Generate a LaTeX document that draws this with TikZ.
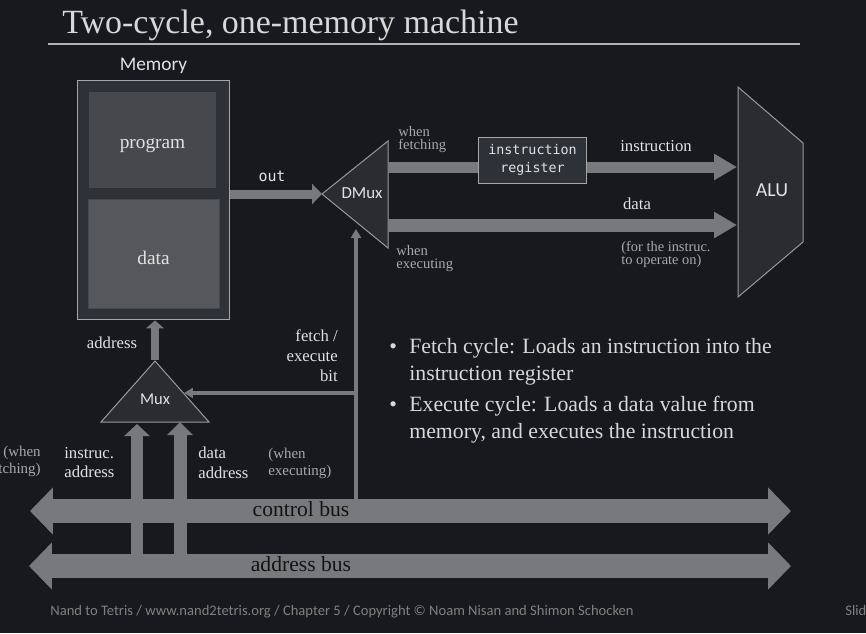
\documentclass[tikz,border=0pt]{standalone}
\usepackage{fontspec}
\setmainfont{Liberation Serif}
\setsansfont{Carlito}
\setmonofont{DejaVu Sans Mono}
\usepackage{xcolor}
\usetikzlibrary{arrows.meta}
\definecolor{slidebg}{HTML}{17191E}
\definecolor{boxout}{HTML}{2F3138}
\definecolor{progfill}{HTML}{46484D}
\definecolor{datafill}{HTML}{55575C}
\definecolor{gatefill}{HTML}{2A2C32}
\definecolor{pipe}{HTML}{77797D}
\definecolor{lighttext}{HTML}{E2E2E2}
\definecolor{dimtext}{HTML}{A9A9A9}

\begin{document}
\begin{tikzpicture}[x=0.02cm,y=-0.02cm,font=\rmfamily,
  gate/.style={fill=gatefill,draw=gray!80,line width=0.02cm},
  gatetext/.style={font=\sffamily\fontsize{9.6}{11}\selectfont,text=lighttext},
  lbl/.style={font=\fontsize{9.5}{11.3}\selectfont,text=lighttext,inner sep=0pt},
  note/.style={font=\fontsize{8.3}{7.5}\selectfont,text=dimtext,inner sep=0pt,align=left},
  wire/.style={draw=pipe,line width=0.22cm,-{Triangle[length=0.46cm,width=0.5cm]}},
  thinwire/.style={draw=pipe,line width=0.08cm,-{Triangle[length=0.18cm,width=0.2cm]}},
  bus/.style={draw=pipe,line width=0.48cm,{Triangle[length=0.46cm,width=0.92cm]}-{Triangle[length=0.46cm,width=0.92cm]}},
  buslbl/.style={font=\fontsize{12.3}{14}\selectfont,text=black!85!gray,inner sep=0pt},
  bullettxt/.style={anchor=north west,inner sep=0pt,align=left,text=lighttext!90!gray,font=\fontsize{12.4}{15.3}\selectfont}]
  \clip (0,0) rectangle (866,633);
  \fill[slidebg] (0,0) rectangle (866,633);

  \node[anchor=base west,inner sep=0pt,text=lighttext!90!gray,font=\fontsize{19.3}{23}\selectfont] (title) at (62,33) {Two-cycle, one-memory machine};
  \draw[gray!60!white,line width=0.04cm] (48,44) -- (800,44);

  \node[fill=boxout,draw=gray!70,line width=0.02cm,minimum width=3.06cm,minimum height=4.8cm] (mem) at (153.5,200) {};
  \node[font=\sffamily\fontsize{11}{13}\selectfont,text=lighttext,above=0cm] (memlbl) at (mem.north) {Memory};
  \node[fill=progfill,minimum width=2.54cm,minimum height=1.92cm,text=lighttext,font=\fontsize{11}{13}\selectfont,text height=0.34cm,text depth=0pt] (prog) at (152.5,140) {program};
  \node[fill=datafill,draw=progfill,minimum width=2.62cm,minimum height=2.18cm,text=lighttext,font=\fontsize{11}{13}\selectfont,text height=0.44cm,text depth=0pt] (data) at (153.5,253.5) {data};

  \draw[gate] (322,194) -- (388,141) -- (388,248) -- cycle;
  \node[gatetext] (dmux) at (362,193) {DMux};
  \coordinate (dmuxin) at (322,194);
  \coordinate (dmuxtop) at (388,167);
  \coordinate (dmuxbot) at (388,225);
  \coordinate (dmuxsel) at (356,229);

  \draw[gate] (738,87) -- (803,143) -- (803,242) -- (738,297) -- cycle;
  \node[font=\sffamily\fontsize{11.3}{13}\selectfont,text=lighttext] (alu) at (772,190) {ALU};
  \coordinate (aluins) at (737,167);
  \coordinate (aludata) at (737,225);

  \draw[gate] (155,361) -- (209,422) -- (101,422) -- cycle;
  \node[font=\sffamily\fontsize{9.4}{11}\selectfont,text=lighttext] (mux) at (155,399) {Mux};
  \coordinate (muxtop) at (155,360);
  \coordinate (muxsel) at (184,393);
  \coordinate (muxa) at (137,424);
  \coordinate (muxb) at (180,422);

  \draw[draw=pipe,line width=0.18cm,-{Triangle[length=0.2cm,width=0.4cm]}] (mem.east |- dmuxin) -- (dmuxin);
  \node[font=\ttfamily\fontsize{8.5}{10}\selectfont,text=lighttext] (outlbl) at (272,176) {out};

  \draw[draw=pipe,line width=0.22cm] (dmuxtop) -- (478,167);
  \node[fill=boxout,draw=gray!70,line width=0.02cm,minimum width=2.18cm,minimum height=0.92cm,align=center,text=lighttext,font=\ttfamily\fontsize{7.6}{10}\selectfont] (ireg) at (532.5,160) {instruction\\register};
  \draw[wire] (ireg.east |- aluins) -- (aluins);
  \draw[wire,line width=0.26cm] (dmuxbot) -- (aludata);

  \node[lbl] (inslbl) at (656,146) {instruction};
  \node[lbl] (datalbl) at (637,204) {data};
  \node[note,anchor=north west,font=\fontsize{8.2}{7.5}\selectfont] (operlbl) at (621,241) {(for the instruc.\\to operate on)};
  \node[note,anchor=north west] (fetchlbl) at (398,126) {when\\fetching};
  \node[note,anchor=north west] (execlbl) at (396,245) {when\\executing};

  \coordinate (cbtop) at (356,499);
  \coordinate (branch) at (356,393);
  \draw[thinwire] (cbtop) -- (dmuxsel);
  \draw[thinwire] (branch) -- (muxsel);
  \node[lbl,align=right,anchor=north east,font=\fontsize{9.5}{11.4}\selectfont] (bitlbl) at (338,329) {fetch /\\execute\\bit};

  \draw[draw=pipe,line width=0.16cm,-{Triangle[length=0.16cm,width=0.36cm]}] (muxtop) -- (mux.north |- mem.south);
  \node[lbl] (addrlbl) at (112,343) {address};

  \coordinate (cbw) at (30,511);
  \coordinate (cbe) at (791,511);
  \coordinate (abw) at (29,566);
  \coordinate (abe) at (791,566);
  \draw[bus] (cbw) -- (cbe);
  \draw[bus] (abw) -- (abe);
  \node[buslbl] (cblbl) at (301,509) {control bus};
  \node[buslbl] (ablbl) at (301,564) {address bus};

  \draw[draw=pipe,line width=0.26cm,-{Triangle[length=0.24cm,width=0.5cm]}] (muxa |- abw) ++(0,-12) -- (muxa);
  \draw[draw=pipe,line width=0.26cm,-{Triangle[length=0.26cm,width=0.5cm]}] (muxb |- abw) ++(0,-12) -- (muxb);

  \node[lbl,align=left,anchor=north west,font=\fontsize{9.5}{10.9}\selectfont] (iaddr) at (64,447) {instruc.\\address};
  \node[lbl,align=left,anchor=north west,font=\fontsize{9.5}{10.9}\selectfont] (daddr) at (198,447) {data\\address};
  \node[note,align=right,anchor=north east,font=\fontsize{8.5}{9.6}\selectfont] (whenf) at (41,446) {(when\\fetching)};
  \node[note,anchor=north west,font=\fontsize{8.5}{9.6}\selectfont] (whene) at (268,448) {(when\\executing)};

  \node[bullettxt] (fetchtxt) at (409,338) {\llap{\textbullet\hspace{7pt}}Fetch cycle: Loads an instruction into the\\instruction register};
  \node[bullettxt] (exectxt) at (409,396) {\llap{\textbullet\hspace{7pt}}Execute cycle: Loads a data value from\\memory, and executes the instruction};

  \node[anchor=base west,inner sep=0pt,text=gray,font=\sffamily\fontsize{8.3}{10}\selectfont] (footer) at (50,615) {Nand to Tetris / www.nand2tetris.org / Chapter 5 / Copyright © Noam Nisan and Shimon Schocken};
  \node[anchor=base west,inner sep=0pt,text=gray,font=\sffamily\fontsize{8.3}{10}\selectfont] (slide) at (845,615) {Slide};
\end{tikzpicture}
\end{document}
